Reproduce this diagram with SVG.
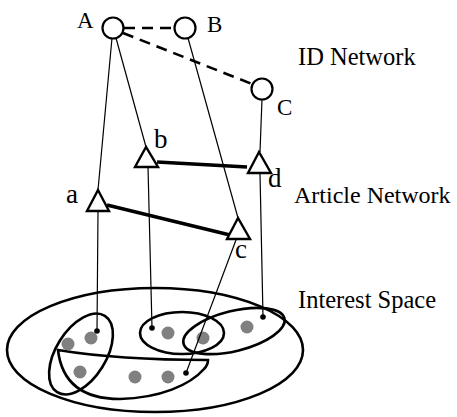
<svg xmlns="http://www.w3.org/2000/svg" width="457" height="417" viewBox="0 0 457 417">
<style>
.lbl{font-family:"Liberation Serif","Times New Roman",serif;font-size:23px;fill:#000}
.lc{font-family:"Liberation Serif","Times New Roman",serif;font-size:27px;fill:#000}
.ttl{font-family:"Liberation Serif","Times New Roman",serif;font-size:24.5px;fill:#000}
.id{fill:#fff;stroke:#000;stroke-width:2.2}
.art{fill:#fff;stroke:#000;stroke-width:2.4;stroke-linejoin:miter}
.thin{stroke:#000;stroke-width:1.2;fill:none}
.dash{stroke:#000;stroke-width:2.6;stroke-dasharray:11 7;fill:none}
.thick{stroke:#000;stroke-width:3.4;fill:none}
.reg{fill:none;stroke:#000;stroke-width:2.6}
.item{fill:#808080}
.pin{fill:#000}
</style>
<rect width="457" height="417" fill="#fff"/>
<g id="labels">
<text class="ttl" x="298" y="65">ID Network</text>
<text class="ttl" x="294" y="203" style="font-size:24px">Article Network</text>
<text class="ttl" x="298" y="308">Interest Space</text>
</g>
<g id="interest-space">
<ellipse class="reg" cx="155" cy="350" rx="148" ry="62"/>
<ellipse class="reg" cx="81" cy="354" rx="45" ry="25" transform="rotate(-58 81 354)"/>
<ellipse class="reg" cx="182" cy="333" rx="42" ry="21"/>
<ellipse class="reg" cx="234" cy="331" rx="52" ry="20" transform="rotate(-14 234 331)"/>
<path class="reg" d="M58,350 C100,357 160,360 208,360 C208,364 206,367 204,369 C190,385 160,398 120,399 C85,399 62,385 58,350 Z"/>
<circle class="item" cx="68" cy="344" r="6.5"/>
<circle class="item" cx="91" cy="338" r="6.5"/>
<circle class="item" cx="80" cy="372" r="6.5"/>
<circle class="item" cx="135" cy="377" r="6.5"/>
<circle class="item" cx="168" cy="377" r="6.5"/>
<circle class="item" cx="168" cy="333" r="6.5"/>
<circle class="item" cx="203" cy="338" r="6.5"/>
<circle class="item" cx="247" cy="327" r="6.5"/>
</g>
<g id="connectors">
<line class="dash" x1="124" y1="28" x2="173" y2="28"/>
<line class="dash" x1="123" y1="33" x2="252" y2="84"/>
<line class="thin" x1="112" y1="38" x2="98" y2="190"/>
<line class="thin" x1="116" y1="38" x2="146" y2="147"/>
<line class="thin" x1="188" y1="38" x2="238" y2="218"/>
<line class="thin" x1="262" y1="99" x2="260" y2="152"/>
<line class="thick" x1="157" y1="162" x2="247" y2="167"/>
<line class="thick" x1="107" y1="205" x2="230" y2="235"/>
<line class="thin" x1="98" y1="211" x2="97" y2="331"/>
<line class="thin" x1="148" y1="167" x2="152" y2="328"/>
<line class="thin" x1="260" y1="173" x2="263" y2="317"/>
<line class="thin" x1="236" y1="240" x2="186" y2="373"/>
<circle class="pin" cx="97" cy="331" r="2.8"/>
<circle class="pin" cx="152" cy="328" r="2.8"/>
<circle class="pin" cx="263" cy="317" r="2.8"/>
<circle class="pin" cx="186" cy="373" r="2.8"/>
</g>
<g id="node-A"><circle class="id" cx="113" cy="28" r="10.5"/><text class="lbl" x="77" y="28">A</text></g>
<g id="node-B"><circle class="id" cx="185" cy="28" r="10.5"/><text class="lbl" x="207" y="32">B</text></g>
<g id="node-C"><circle class="id" cx="262" cy="89" r="10.5"/><text class="lbl" x="277" y="115">C</text></g>
<g id="node-a"><polygon class="art" points="98,190 87,211 109,211"/><text class="lc" x="66" y="203">a</text></g>
<g id="node-b"><polygon class="art" points="146,147 135,167 158,167"/><text class="lc" x="154" y="148">b</text></g>
<g id="node-c"><polygon class="art" points="238,218 227,239 250,239"/><text class="lc" x="235" y="258">c</text></g>
<g id="node-d"><polygon class="art" points="259,152 248,173 271,173"/><text class="lc" x="268" y="187">d</text></g>
</svg>
